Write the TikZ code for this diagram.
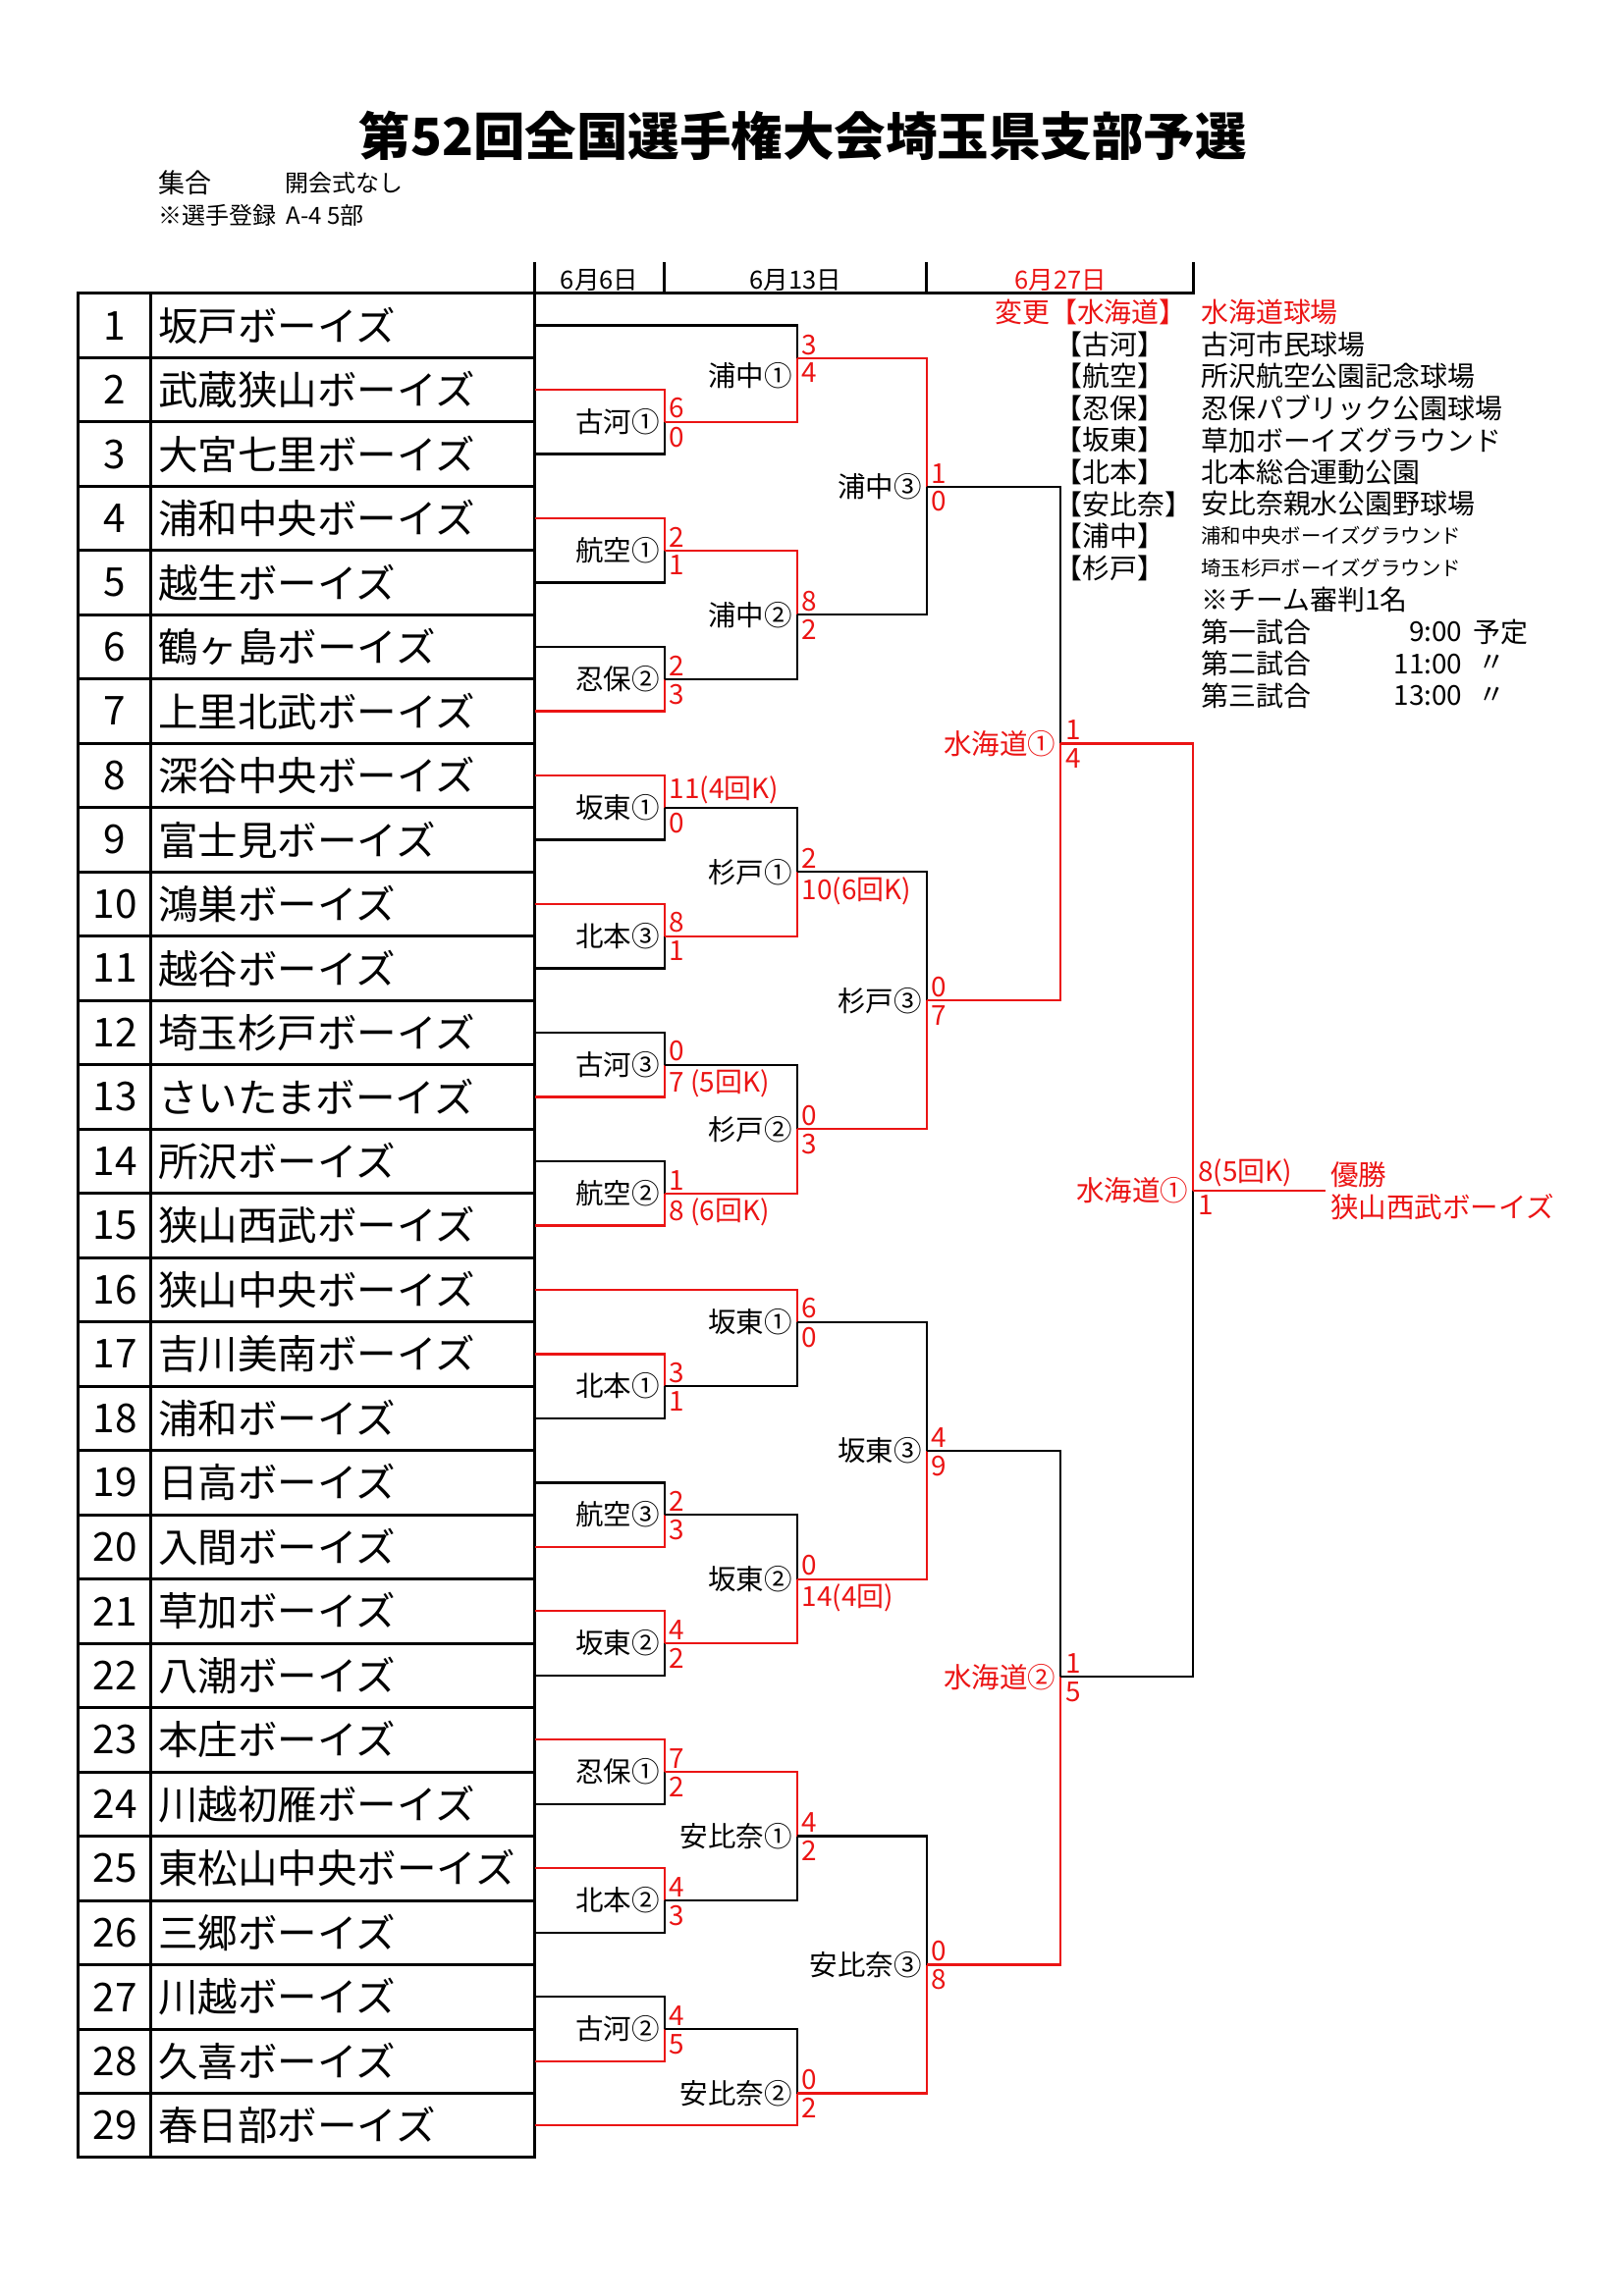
\documentclass[tikz,border=0pt]{standalone}
\usepackage{fontspec}
\setmainfont{Noto Sans CJK JP}
\usetikzlibrary{calc}
\definecolor{rd}{RGB}{235,20,20}
\tikzset{
  ln/.style={line width=0.75pt},
  tbl/.style={line width=1pt},
  team/.style={font=\fontsize{13.5}{14}\selectfont,inner sep=0pt},
  lab/.style={font=\fontsize{9.5}{10}\selectfont,inner sep=0pt},
  sc/.style={font=\fontsize{9.3}{10}\selectfont,text=rd,inner sep=0pt},
  leg/.style={font=\fontsize{9.3}{10}\selectfont,inner sep=0pt,anchor=west},
  legs/.style={font=\fontsize{6.8}{7}\selectfont,inner sep=0pt,anchor=west},
}
\newcommand\labshift{0}
\newcommand\game[9]{%
  \coordinate (gx) at (#2,0);
  \coordinate (gm) at ($(#3)!#9!(#4)$);
  \coordinate (#1) at (gx |- gm);
  \if t#5
    \draw[ln,black] (#4) -- (gx |- #4) -- (#1);
    \draw[ln,rd] (#3) -- (gx |- #3) -- (#1);
  \else
    \draw[ln,black] (#3) -- (gx |- #3) -- (#1);
    \draw[ln,rd] (#4) -- (gx |- #4) -- (#1);
  \fi
  \node[sc,anchor=south west] (#1-s1) at ($(#1)+(3,-2)$) {#6};
  \node[sc,anchor=north west] (#1-s2) at ($(#1)+(3,3)$) {#7};
  \node[lab,anchor=east] (#1-l) at ($(#1)+(-3,\labshift)$) {#8};
}
\begin{document}
\begin{tikzpicture}[x=0.5pt,y=-0.5pt]
\useasboundingbox (0,0) rectangle (1102,1559);
% title
\node[font=\fontsize{17.5}{18}\selectfont\bfseries] (title) at (545,92) {第52回全国選手権大会埼玉県支部予選};
\node[font=\fontsize{9}{10}\selectfont,anchor=west,inner sep=0pt] (s1) at (107,124) {集合};
\node[font=\fontsize{8}{9}\selectfont,anchor=west,inner sep=0pt] (s2) at (193,124) {開会式なし};
\node[font=\fontsize{8}{9}\selectfont,anchor=west,inner sep=0pt] (s3) at (107,146) {※選手登録\ \ A-4 5部};
% header
\foreach \xx in {363,451,629,810} \draw[tbl] (\xx,178) -- (\xx,200);
\draw[tbl] (53,199.2) -- (810,199.2);
\node[font=\fontsize{8.5}{9}\selectfont] (d1) at (407,190) {6月6日};
\node[font=\fontsize{8.5}{9}\selectfont] (d2) at (540,190) {6月13日};
\node[font=\fontsize{8.5}{9}\selectfont,text=rd] (d3) at (720,190) {6月27日};
% table
\draw[tbl] (53,199.2) rectangle (363,1465);
\draw[tbl] (102,199.2) -- (102,1465);
\foreach \i in {1,...,28} \draw[tbl] (53,{199.2+43.65*\i}) -- (363,{199.2+43.65*\i});
\foreach \i/\nm in {1/坂戸ボーイズ,2/武蔵狭山ボーイズ,3/大宮七里ボーイズ,4/浦和中央ボーイズ,5/越生ボーイズ,6/鶴ヶ島ボーイズ,7/上里北武ボーイズ,8/深谷中央ボーイズ,9/富士見ボーイズ,10/鴻巣ボーイズ,11/越谷ボーイズ,12/埼玉杉戸ボーイズ,13/さいたまボーイズ,14/所沢ボーイズ,15/狭山西武ボーイズ,16/狭山中央ボーイズ,17/吉川美南ボーイズ,18/浦和ボーイズ,19/日高ボーイズ,20/入間ボーイズ,21/草加ボーイズ,22/八潮ボーイズ,23/本庄ボーイズ,24/川越初雁ボーイズ,25/東松山中央ボーイズ,26/三郷ボーイズ,27/川越ボーイズ,28/久喜ボーイズ,29/春日部ボーイズ}{
  \coordinate (t\i) at (363,{221+43.65*(\i-1)});
  \node[team] (n\i) at (78,{221+43.65*(\i-1)}) {\i};
  \node[team,anchor=west] (m\i) at (107,{221+43.65*(\i-1)}) {\nm};
}
% round 1
\game{k1}{451}{t2}{t3}{t}{6}{0}{古河①}{0.5}
\game{ko1}{451}{t4}{t5}{t}{2}{1}{航空①}{0.5}
\game{o2}{451}{t6}{t7}{b}{2}{3}{忍保②}{0.5}
\game{b1}{451}{t8}{t9}{t}{11(4回K)}{0}{坂東①}{0.5}
\game{h3}{451}{t10}{t11}{t}{8}{1}{北本③}{0.5}
\game{k3}{451}{t12}{t13}{b}{0}{7 (5回K)}{古河③}{0.5}
\game{ko2}{451}{t14}{t15}{b}{1}{8 (6回K)}{航空②}{0.5}
\game{h1}{451}{t17}{t18}{t}{3}{1}{北本①}{0.5}
\game{ko3}{451}{t19}{t20}{b}{2}{3}{航空③}{0.5}
\game{b2}{451}{t21}{t22}{t}{4}{2}{坂東②}{0.5}
\game{o1}{451}{t23}{t24}{t}{7}{2}{忍保①}{0.5}
\game{h2}{451}{t25}{t26}{t}{4}{3}{北本②}{0.5}
\game{k2}{451}{t27}{t28}{b}{4}{5}{古河②}{0.5}
% round 2
\renewcommand\labshift{12}
\game{u1}{541}{t1}{k1}{b}{3}{4}{浦中①}{0.34}
\renewcommand\labshift{0}
\game{u2}{541}{ko1}{o2}{t}{8}{2}{浦中②}{0.5}
\game{sg1}{541}{b1}{h3}{b}{2}{10(6回K)}{杉戸①}{0.5}
\game{sg2}{541}{k3}{ko2}{b}{0}{3}{杉戸②}{0.5}
\game{bb1}{541}{t16}{h1}{t}{6}{0}{坂東①}{0.334}
\game{bb2}{541}{ko3}{b2}{b}{0}{14(4回)}{坂東②}{0.5}
\game{a1}{541}{o1}{h2}{t}{4}{2}{安比奈①}{0.5}
\game{a2}{541}{k2}{t29}{b}{0}{2}{安比奈②}{0.667}
% round 3
\game{u3}{629}{u1}{u2}{t}{1}{0}{浦中③}{0.5}
\game{sg3}{629}{sg1}{sg2}{b}{0}{7}{杉戸③}{0.5}
\game{bb3}{629}{bb1}{bb2}{b}{4}{9}{坂東③}{0.5}
\game{a3}{629}{a1}{a2}{b}{0}{8}{安比奈③}{0.5}
% round 4
\game{w1}{720}{u3}{sg3}{b}{1}{4}{\textcolor{rd}{水海道①}}{0.5}
\game{w2}{720}{bb3}{a3}{b}{1}{5}{\textcolor{rd}{水海道②}}{0.44}
% final
\game{fin}{810}{w1}{w2}{t}{8(5回K)}{1}{\textcolor{rd}{水海道①}}{0.479}
\coordinate (champ) at ($(fin)+(90,0)$);
\draw[ln,rd] (fin) -- (champ);
\node[font=\fontsize{9.5}{10}\selectfont,text=rd,anchor=west,inner sep=0pt] (yu) at ($(champ)+(3,-11)$) {優勝};
\node[font=\fontsize{9.5}{10}\selectfont,text=rd,anchor=west,inner sep=0pt] (yn) at ($(champ)+(3,11)$) {狭山西武ボーイズ};
% legend
\node[leg,text=rd,anchor=east] (g0) at (806,212) {変更【水海道】};
\node[leg,text=rd] (v0) at (815,212) {水海道球場};
\foreach \k/\b [count=\j] in {古河/古河市民球場,航空/所沢航空公園記念球場,忍保/忍保パブリック公園球場,坂東/草加ボーイズグラウンド,北本/北本総合運動公園,安比奈/安比奈親水公園野球場}{
  \node[leg] (g\j) at (716,{212+21.7*\j}) {【\k】};
  \node[leg] (v\j) at (815,{212+21.7*\j}) {\b};
}
\node[leg] (g7) at (716,363.9) {【浦中】};
\node[legs] (v7) at (815,363.9) {浦和中央ボーイズグラウンド};
\node[leg] (g8) at (716,385.6) {【杉戸】};
\node[legs] (v8) at (815,385.6) {埼玉杉戸ボーイズグラウンド};
\node[leg] (r0) at (815,407.3) {※チーム審判1名};
\node[leg] (r1) at (815,429) {第一試合};
\node[leg] (r2) at (815,450.7) {第二試合};
\node[leg] (r3) at (815,472.4) {第三試合};
\node[leg,anchor=east] (q1) at (993,429) {9:00};
\node[leg,anchor=east] (q2) at (993,450.7) {11:00};
\node[leg,anchor=east] (q3) at (993,472.4) {13:00};
\node[leg] (p1) at (1000,429) {予定};
\node[leg] (p2) at (1003,450.7) {〃};
\node[leg] (p3) at (1003,472.4) {〃};
\end{tikzpicture}
\end{document}
